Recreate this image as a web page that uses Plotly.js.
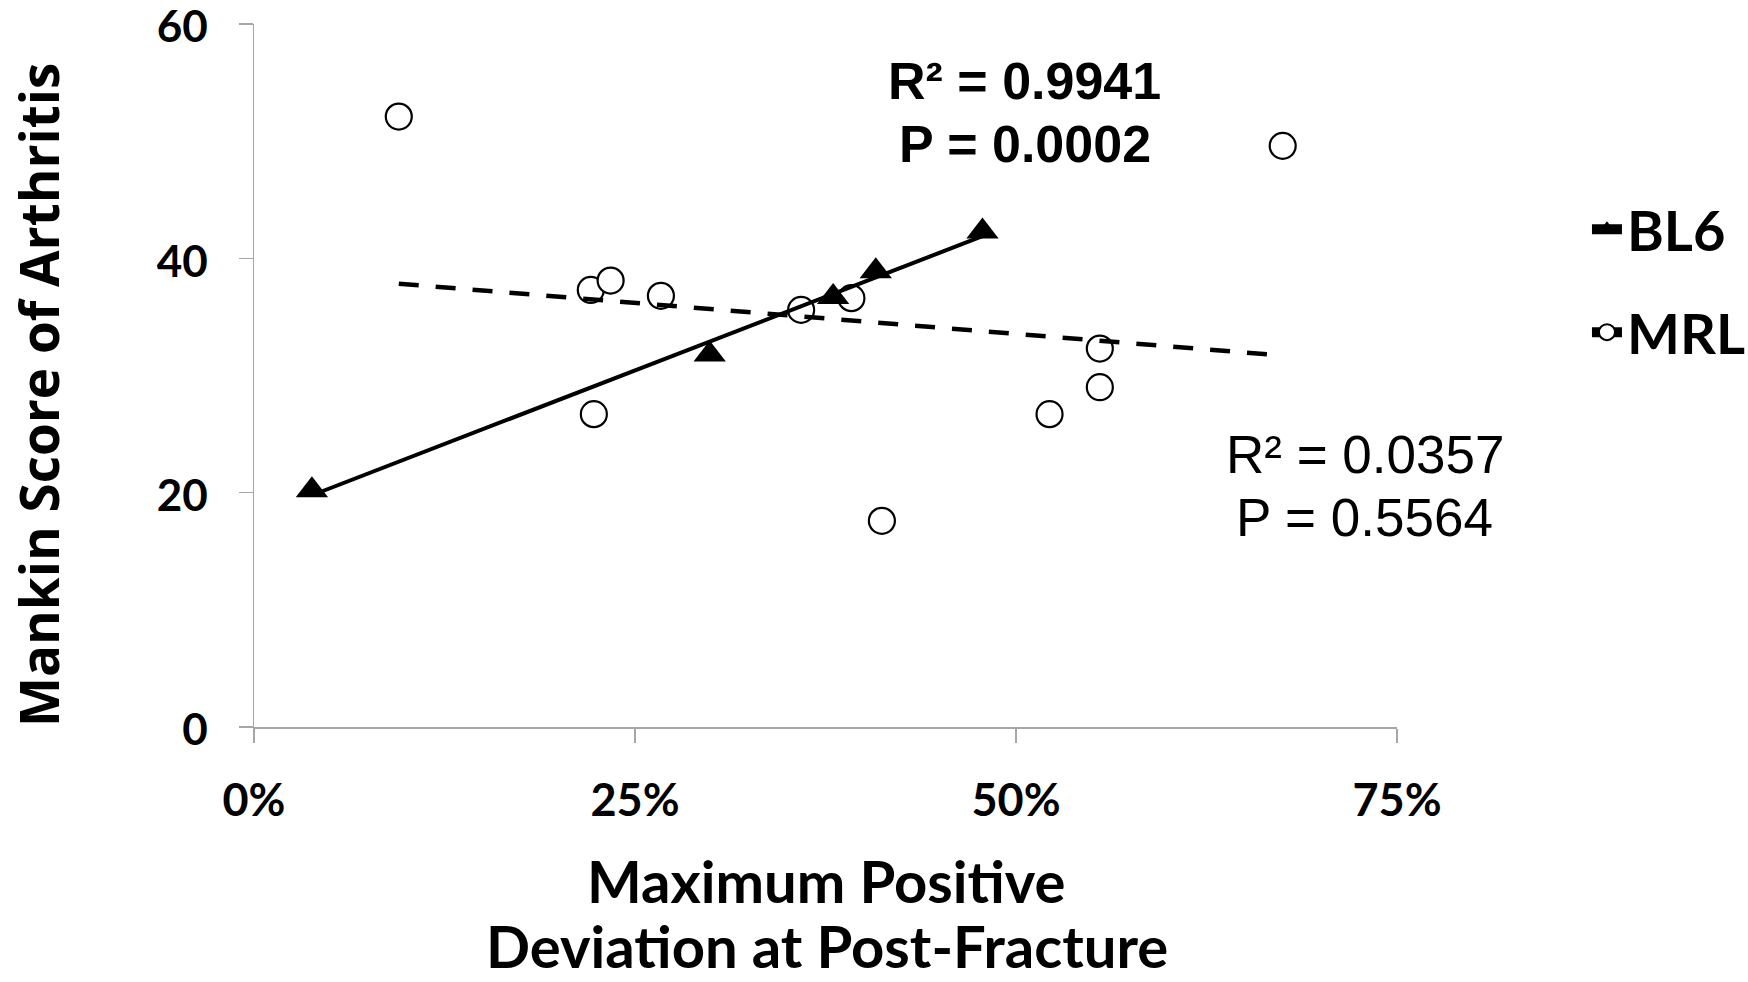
<!DOCTYPE html>
<html>
<head>
<meta charset="utf-8">
<script src="https://cdn.plot.ly/plotly-3.0.1.min.js"></script>
<style>html,body{margin:0;padding:0;background:#fff;}#chart{width:1748px;height:982px;}</style>
</head>
<body>
<div id="chart"></div>
<script>
// Data
const bl6X = [0.038, 0.299, 0.380, 0.408, 0.478];
const bl6Y = [20.2, 31.8, 36.7, 38.9, 42.3];
const mrlX = [0.095, 0.221, 0.234, 0.267, 0.223, 0.359, 0.392, 0.412, 0.522, 0.555, 0.555, 0.675];
const mrlY = [52.1, 37.3, 38.1, 36.8, 26.7, 35.6, 36.6, 17.6, 26.7, 32.3, 29.0, 49.6];
const seriesNames = ["BL6", "MRL"];
const xTickVals = [0, 0.25, 0.5, 0.75];
const yTickVals = [0, 20, 40, 60];
const xTitleLines = ['Maximum Positive', 'Deviation at Post-Fracture'];
const yTitle = 'Mankin Score of Arthritis';
const statsBL6 = ["R² = 0.9941", "P = 0.0002"];
const statsMRL = ["R² = 0.0357", "P = 0.5564"];

// least-squares trend line between the min and max x of each series
function trend(xs, ys) {
  const n = xs.length;
  const mx = xs.reduce((a, b) => a + b, 0) / n;
  const my = ys.reduce((a, b) => a + b, 0) / n;
  let sxy = 0, sxx = 0;
  for (let i = 0; i < n; i++) { sxy += (xs[i] - mx) * (ys[i] - my); sxx += (xs[i] - mx) ** 2; }
  const b = sxy / sxx, a = my - b * mx;
  const x0 = Math.min(...xs), x1 = Math.max(...xs);
  return { x: [x0, x1], y: [a + b * x0, a + b * x1] };
}
const tB = trend(bl6X, bl6Y);
const tM = trend(mrlX, mrlY);

const calib = 'Lato, "Open Sans", sans-serif';
const arial = '"Liberation Sans", Arial, sans-serif';

const traces = [
  { x: mrlX, y: mrlY, type: 'scatter', mode: 'markers', showlegend: false,
    marker: { symbol: 'circle', size: 26, color: '#ffffff', line: { color: '#000000', width: 2.2 } } },
  { x: tM.x, y: tM.y, type: 'scatter', mode: 'lines', showlegend: false,
    line: { color: '#000000', width: 4.5, dash: '20px,17px' } },
  { x: tB.x, y: tB.y, type: 'scatter', mode: 'lines', showlegend: false,
    line: { color: '#000000', width: 4 } },
  { x: bl6X, y: bl6Y, type: 'scatter', mode: 'markers', showlegend: false,
    marker: { symbol: 'triangle-up', size: 28, color: '#000000' } },
  { x: [null], y: [null], type: 'scatter', mode: 'lines+markers', name: seriesNames[0], legendgroup: 'a',
    line: { color: '#000000', width: 10 }, marker: { symbol: 'triangle-up', size: 16, color: '#000000' } },
  { x: [null], y: [null], type: 'scatter', mode: 'lines+markers', name: seriesNames[1], legendgroup: 'b',
    line: { color: '#000000', width: 10 }, marker: { symbol: 'circle', size: 16, color: '#ffffff', line: { color: '#000000', width: 2 } } }
];

const ann = (x, y, text, bold) => ({
  xref: 'x', yref: 'y', x: x, y: y, showarrow: false, xanchor: 'center', yanchor: 'middle',
  text: text, font: { family: arial, size: bold ? 52 : 53, color: '#000000', weight: bold ? 'bold' : 'normal' }
});
const titleAnn = (x, y, text, angle) => ({
  xref: 'paper', yref: 'paper', x: x, y: y, showarrow: false, textangle: angle,
  xanchor: 'center', yanchor: 'middle', text: text,
  font: angle ? { family: '"Open Sans", sans-serif', size: 53, color: '#000000', weight: 'bold' }
              : { family: calib, size: 58, color: '#000000', weight: 'bold' }
});

const layout = {
  width: 1748, height: 982,
  margin: { l: 254, r: 351, t: 24, b: 255, autoexpand: false },
  paper_bgcolor: '#ffffff', plot_bgcolor: '#ffffff',
  showlegend: true,
  xaxis: {
    range: [0, 0.75], tickvals: xTickVals, tickformat: '.0%',
    showline: true, linecolor: '#a6a6a6', linewidth: 1.5,
    ticks: 'outside', ticklen: 14, tickwidth: 1.5, tickcolor: '#a6a6a6',
    showgrid: false, zeroline: false, ticklabelstandoff: 19, ticklabeloverflow: 'allow',
    tickfont: { family: calib, size: 45, color: '#000000', weight: 'bold' }
  },
  yaxis: {
    range: [0, 60], tickvals: yTickVals,
    showline: true, linecolor: '#a6a6a6', linewidth: 1.5,
    ticks: 'outside', ticklen: 14, tickwidth: 1.5, tickcolor: '#a6a6a6',
    showgrid: false, zeroline: false, ticklabelstandoff: 22, ticklabelshift: 3, ticklabeloverflow: 'allow',
    tickfont: { family: calib, size: 44, color: '#000000', weight: 'bold' }
  },
  legend: {
    x: 1.1662, xanchor: 'left', y: 0.6345, yanchor: 'middle',
    font: { family: calib, size: 56, color: '#000000', weight: 'bold' },
    tracegroupgap: 27, bgcolor: 'rgba(0,0,0,0)', borderwidth: 0
  },
  annotations: [
    titleAnn(-0.1881, 0.4723, yTitle, -90),
    titleAnn(0.5013, -0.2190, xTitleLines[0], 0),
    titleAnn(0.5013, -0.3115, xTitleLines[1], 0),
    ann(0.5056, 55.17, statsBL6[0], true),
    ann(0.5056, 49.74, statsBL6[1], true),
    ann(0.7287, 23.30, statsMRL[0], false),
    ann(0.7287, 17.87, statsMRL[1], false)
  ]
};

Plotly.newPlot('chart', traces, layout, { displayModeBar: false, staticPlot: true });
</script>
</body>
</html>
